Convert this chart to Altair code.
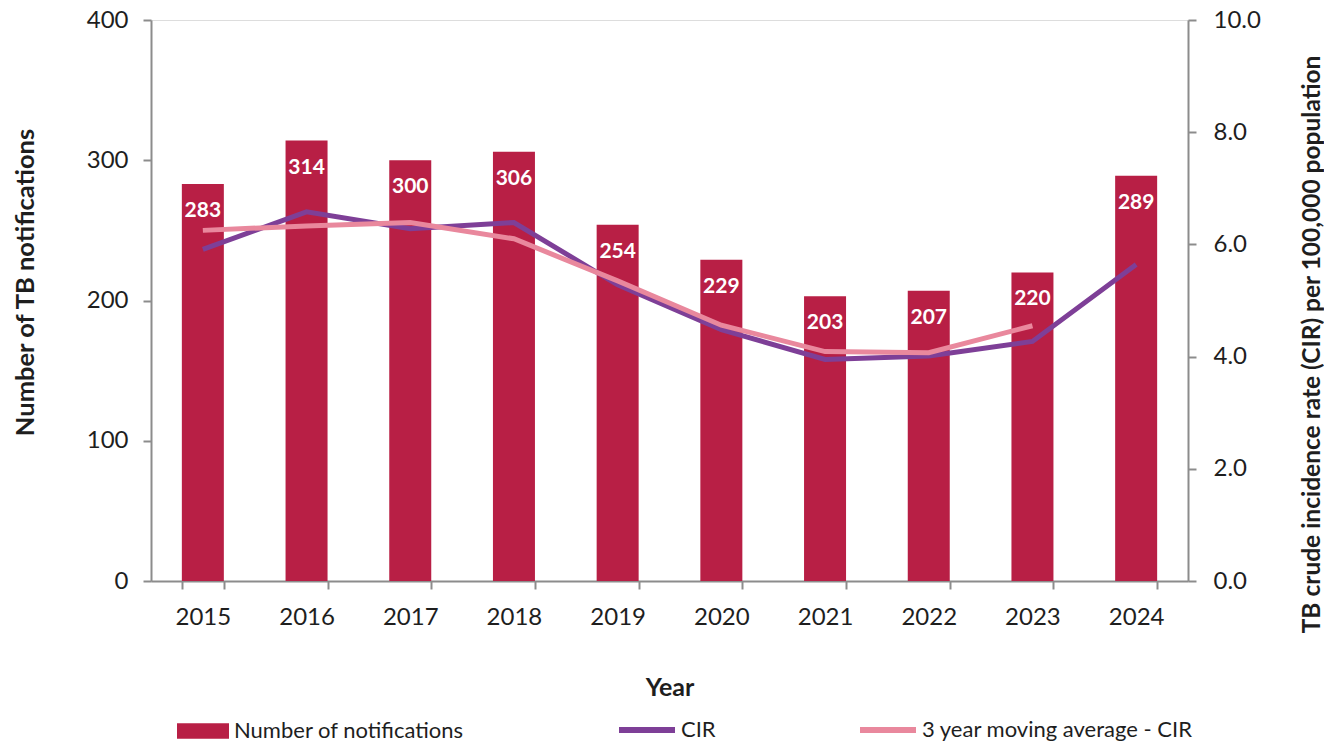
import altair as alt
import pandas as pd

years = ["2015", "2016", "2017", "2018", "2019", "2020", "2021", "2022", "2023", "2024"]
notifications = [283, 314, 300, 306, 254, 229, 203, 207, 220, 289]
cir = [5.91, 6.58, 6.28, 6.39, 5.28, 4.48, 3.95, 4.01, 4.27, 5.64]
ma_years = ["2015", "2016", "2017", "2018", "2019", "2020", "2021", "2022", "2023"]
ma_cir = [6.25, 6.33, 6.39, 6.10, 5.35, 4.56, 4.09, 4.07, 4.55]

BAR_NAME = "Number of notifications"
CIR_NAME = "CIR"
MA_NAME = "3 year moving average - CIR"

RED = "#B81F45"
PURPLE = "#7E3F97"
PINK = "#E9889D"
FONT = "Lato"
AXIS_GREY = "#8c8c8c"
TXT = "#1e1e1e"

bars_df = pd.DataFrame({"Year": years, "n": notifications, "series": BAR_NAME})
cir_df = pd.DataFrame({"Year": years, "v": cir, "series": CIR_NAME})
ma_df = pd.DataFrame({"Year": ma_years, "v": ma_cir, "series": MA_NAME})

W, H = 1037, 561

x_enc = alt.X(
    "Year:N",
    sort=years,
    scale=alt.Scale(paddingInner=0.595, paddingOuter=0.2975),
    axis=alt.Axis(
        title="Year", titleFontWeight="bold", titleFontSize=25, titleFont=FONT,
        titleColor=TXT, titleX=W / 2, titleY=106, titleBaseline="middle",
        labelFontSize=24, labelFont=FONT, labelColor=TXT, labelAngle=0,
        labelPadding=16, tickSize=8, tickBand="extent",
        domainColor=AXIS_GREY, tickColor=AXIS_GREY, domainWidth=2, tickWidth=2,
    ),
)

bars = alt.Chart(bars_df).mark_bar(color=RED).encode(
    x=x_enc,
    y=alt.Y(
        "n:Q",
        scale=alt.Scale(domain=[0, 400], nice=False),
        axis=alt.Axis(
            title="Number of TB notifications", titleFontWeight="bold", titleFontSize=25.5,
            titleFont=FONT, titleColor=TXT, titleAngle=270, titleX=-118, titleY=262,
            titleBaseline="alphabetic", titleAlign="center",
            values=[0, 100, 200, 300, 400], labelFontSize=24, labelFont=FONT,
            labelColor=TXT, tickSize=8, labelPadding=15, grid=False,
            domainColor=AXIS_GREY, tickColor=AXIS_GREY, domainWidth=2, tickWidth=2,
        ),
    ),
    color=alt.Color(
        "series:N",
        scale=alt.Scale(domain=[BAR_NAME], range=[RED]),
        legend=alt.Legend(
            title=None, orient="none", legendX=26, legendY=685,
            symbolType="M-1,-0.3L1,-0.3L1,0.3L-1,0.3Z", symbolSize=2704,
            symbolStrokeWidth=0, labelFontSize=22, labelFont=FONT, labelColor=TXT,
            labelOffset=5, labelLimit=500,
        ),
    ),
)

labels = alt.Chart(bars_df).mark_text(
    color="white", fontWeight="bold", fontSize=21, font=FONT, baseline="middle", dy=27
).encode(
    x=alt.X("Year:N", sort=years),
    y=alt.Y("n:Q"),
    text=alt.Text("n:Q"),
)

y_right = alt.Y(
    "v:Q",
    scale=alt.Scale(domain=[0, 10], nice=False),
    axis=alt.Axis(
        title="TB crude incidence rate (CIR) per 100,000 population", orient="right",
        titleFontWeight="bold", titleFontSize=24.5, titleFont=FONT, titleColor=TXT,
        titleAngle=270, titleX=131, titleY=324, titleBaseline="alphabetic",
        titleAlign="center",
        values=[0, 2, 4, 6, 8, 10], format=".1f", labelFontSize=24, labelFont=FONT,
        labelColor=TXT, tickSize=8, labelPadding=17, grid=False,
        domainColor=AXIS_GREY, tickColor=AXIS_GREY, domainWidth=2, tickWidth=2,
    ),
)

stroke_enc = alt.Stroke(
    "series:N",
    scale=alt.Scale(domain=[CIR_NAME, MA_NAME], range=[PURPLE, PINK]),
    legend=alt.Legend(
        title=None, orient="none", legendX=465, legendY=679, direction="horizontal",
        symbolType="stroke", symbolSize=3136, symbolStrokeWidth=6,
        labelFontSize=22, labelFont=FONT, labelColor=TXT, labelOffset=3,
        columnPadding=132, labelLimit=500,
    ),
)

cir_line = alt.Chart(cir_df).mark_line(strokeWidth=5).encode(
    x=alt.X("Year:N", sort=years), y=y_right, stroke=stroke_enc
)
ma_line = alt.Chart(ma_df).mark_line(strokeWidth=5).encode(
    x=alt.X("Year:N", sort=years), y=alt.Y("v:Q"), stroke=stroke_enc
)

chart = (
    alt.layer(alt.layer(bars, labels), alt.layer(cir_line, ma_line))
    .resolve_scale(y="independent")
    .properties(
        width=W, height=H,
        autosize=alt.AutoSizeParams(type="none"),
        padding={"left": 143, "top": 12, "right": 136, "bottom": 163},
    )
    .configure_view(stroke=None)
    .configure(background="white")
)

chart.save("out.html", embed_options={"renderer": "svg", "actions": False})
